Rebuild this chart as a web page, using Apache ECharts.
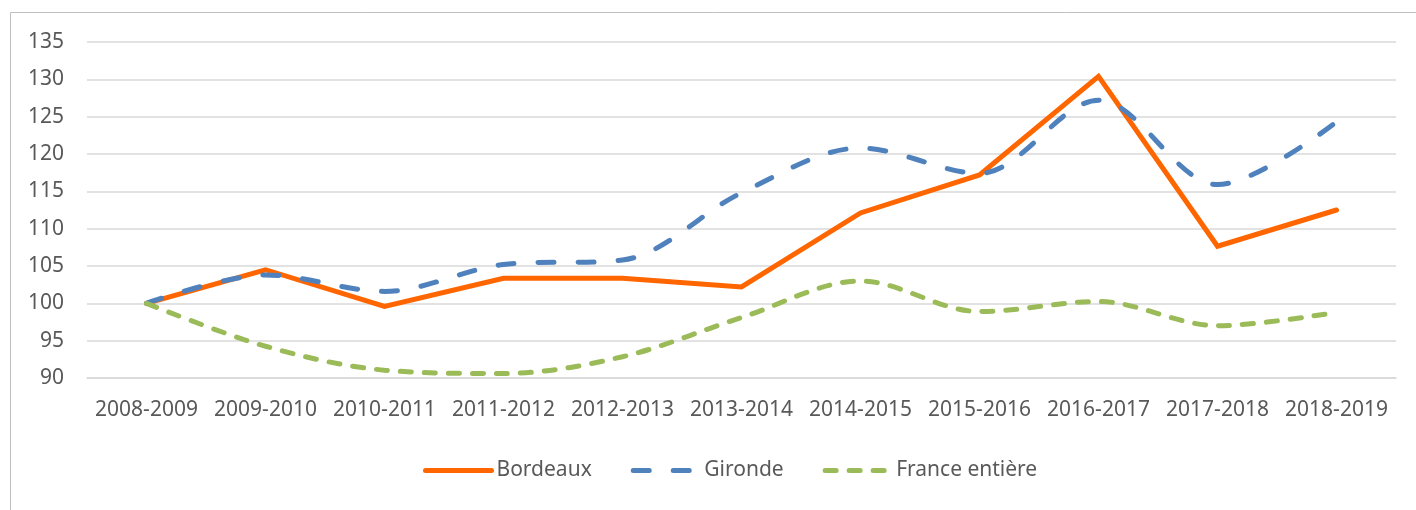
<!DOCTYPE html>
<html>
<head>
<meta charset="utf-8">
<script src="https://cdn.jsdelivr.net/npm/echarts@6/dist/echarts.min.js"></script>
<style>
  html, body { margin: 0; padding: 0; background: #fff; }
  #myChart { width: 1416px; height: 510px; }
</style>
</head>
<body>
<div id="myChart"></div>
<script>
// categories (school years)
var years = ["2008-2009", "2009-2010", "2010-2011", "2011-2012", "2012-2013", "2013-2014",
  "2014-2015", "2015-2016", "2016-2017", "2017-2018", "2018-2019"];
// index base 100 in 2008-2009
var bordeaux = [100, 104.5, 99.6, 103.35, 103.35, 102.2, 112.1, 117.2, 130.4, 107.65, 112.5];
var gironde = [100, 103.8, 101.6, 105.2, 105.8, 114.8, 120.8, 117.4, 127.2, 115.9, 124.3];
var france = [100, 94.25, 91.05, 90.6, 92.85, 98.1, 103.0, 98.9, 100.25, 97.0, 98.8];
var yMin = 90, yMax = 135, yStep = 5;

var textColor = "#595959";
var font = "'Noto Sans', 'Open Sans', sans-serif";

var myChart = echarts.init(document.getElementById("myChart"));
myChart.setOption({
  animation: false,
  textStyle: { fontFamily: font, color: textColor },
  graphic: [{
    type: "rect",
    shape: { x: 10.5, y: 12.5, width: 1500, height: 600 },
    style: { fill: "none", stroke: "#bfbfbf", lineWidth: 1 },
    silent: true
  }],
  grid: { left: 87, right: 20, top: 42, bottom: 132 },
  legend: {
    left: 418,
    top: 455,
    itemWidth: 66,
    itemHeight: 20,
    itemGap: 39,
    itemStyle: { opacity: 0, borderWidth: 0 },
    lineStyle: { width: 5, cap: "round" },
    textStyle: { fontFamily: font, fontSize: 21, color: textColor },
    data: ["Bordeaux", "Gironde", "France entière"]
  },
  xAxis: {
    type: "category",
    data: years,
    boundaryGap: true,
    axisLine: { show: true, lineStyle: { color: "#d9d9d9", width: 1.5 } },
    axisTick: { show: false },
    axisLabel: { fontSize: 21, color: textColor, margin: 22, interval: 0 }
  },
  yAxis: {
    type: "value",
    min: yMin,
    max: yMax,
    interval: yStep,
    axisLine: { show: false },
    axisTick: { show: false },
    axisLabel: { fontSize: 21, color: textColor, margin: 23 },
    splitLine: { lineStyle: { color: "#d9d9d9", width: 1.5 } }
  },
  series: [
    {
      name: "Bordeaux",
      type: "line",
      data: bordeaux,
      symbol: "none",
      color: "#ff6600",
      lineStyle: { width: 5, color: "#ff6600", cap: "round", join: "miter" }
    },
    {
      name: "Gironde",
      type: "line",
      data: gironde,
      symbol: "none",
      smooth: 0.33,
      color: "#4f81bd",
      lineStyle: { width: 5, color: "#4f81bd", type: [16, 24], cap: "round" }
    },
    {
      name: "France entière",
      type: "line",
      data: france,
      symbol: "none",
      smooth: 0.33,
      color: "#9bbb59",
      lineStyle: { width: 5, color: "#9bbb59", type: [11, 13], cap: "round" }
    }
  ]
});
</script>
</body>
</html>
